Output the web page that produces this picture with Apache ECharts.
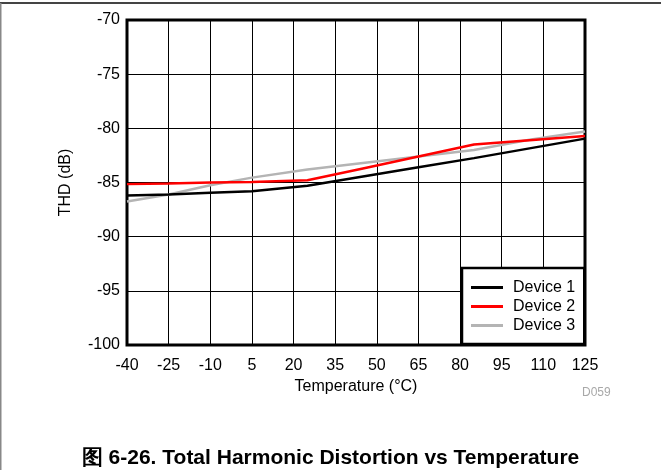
<!DOCTYPE html>
<html>
<head>
<meta charset="utf-8">
<script src="https://cdn.jsdelivr.net/npm/echarts@6/dist/echarts.min.js"></script>
<style>
  html, body { margin: 0; padding: 0; background: #fff; }
  #chart { width: 661px; height: 470px; }
</style>
</head>
<body>
<div id="chart"></div>
<script>
// Temperature sweep points (°C)
const temperatures = [-40, -25, -10, 5, 25, 45, 65, 85, 105, 125];

// THD (dB) per device
const device1 = [-86.2, -86.1, -85.95, -85.8, -85.3, -84.45, -83.6, -82.75, -81.85, -80.95];
const device2 = [-85.15, -85.1, -85.0, -84.95, -84.8, -83.7, -82.6, -81.5, -81.1, -80.7];
const device3 = [-86.75, -86.1, -85.25, -84.55, -83.8, -83.2, -82.6, -82.0, -81.05, -80.3];

const seriesNames = ['Device 1', 'Device 2', 'Device 3'];
const seriesColors = ['#000000', '#ff0000', '#b4b4b4'];

const xTicks = { min: -40, max: 125, step: 15 };
const yTicks = { min: -100, max: -70, step: 5 };

const FONT = '"Liberation Sans", Arial, sans-serif';

function pairs(ys) {
  return temperatures.map((t, i) => [t, ys[i]]);
}

const chart = echarts.init(document.getElementById('chart'), null, { renderer: 'canvas' });

chart.setOption({
  animation: false,
  backgroundColor: '#ffffff',
  textStyle: { fontFamily: FONT },
  grid: {
    left: 127, right: 76, top: 20, bottom: 125,
    show: true, borderColor: '#000', borderWidth: 3, backgroundColor: 'transparent'
  },
  xAxis: {
    type: 'value',
    min: xTicks.min, max: xTicks.max, interval: xTicks.step,
    name: 'Temperature (°C)',
    nameLocation: 'middle',
    nameGap: 30,
    nameTextStyle: { fontSize: 16, color: '#000', fontFamily: FONT },
    axisLine: { show: false },
    axisTick: { show: false },
    axisLabel: { fontSize: 16, color: '#000', margin: 13, fontFamily: FONT },
    splitLine: { show: true, lineStyle: { color: '#000', width: 1 } }
  },
  yAxis: {
    type: 'value',
    min: yTicks.min, max: yTicks.max, interval: yTicks.step,
    name: 'THD (dB)',
    nameLocation: 'middle',
    nameGap: 53,
    nameTextStyle: { fontSize: 16, color: '#000', fontFamily: FONT },
    axisLine: { show: false },
    axisTick: { show: false },
    axisLabel: { fontSize: 16, color: '#000', margin: 7, fontFamily: FONT },
    splitLine: { show: true, lineStyle: { color: '#000', width: 1 } }
  },
  legend: {
    orient: 'vertical',
    left: 462, top: 268,
    padding: [10, 9, 9, 9],
    itemGap: 0,
    itemWidth: 32,
    itemHeight: 3,
    icon: 'rect',
    backgroundColor: '#fff',
    borderColor: '#000',
    borderWidth: 2.5,
    borderRadius: 0,
    textStyle: { fontSize: 16, color: '#000', fontFamily: FONT, lineHeight: 19, padding: [0, 0, 0, 5] },
    data: seriesNames
  },
  series: [device1, device2, device3].map((ys, i) => ({
    name: seriesNames[i],
    type: 'line',
    data: pairs(ys),
    symbol: 'none',
    color: seriesColors[i],
    lineStyle: { color: seriesColors[i], width: 2.5 },
    z: 3 - i
  })),
  graphic: [
    { type: 'rect', shape: { x: 0, y: 2, width: 661, height: 2 }, style: { fill: '#444' }, silent: true },
    { type: 'rect', shape: { x: 0, y: 3, width: 1.5, height: 467 }, style: { fill: '#888' }, silent: true },
    {
      type: 'text', left: 582, top: 387,
      style: { text: 'D059', fill: '#a8a8a8', font: '12px ' + FONT }
    },
    {
      type: 'text', left: 'center', top: 448,
      style: { text: '图 6-26. Total Harmonic Distortion vs Temperature', fill: '#000', font: 'bold 21px ' + FONT }
    }
  ]
});
</script>
</body>
</html>
